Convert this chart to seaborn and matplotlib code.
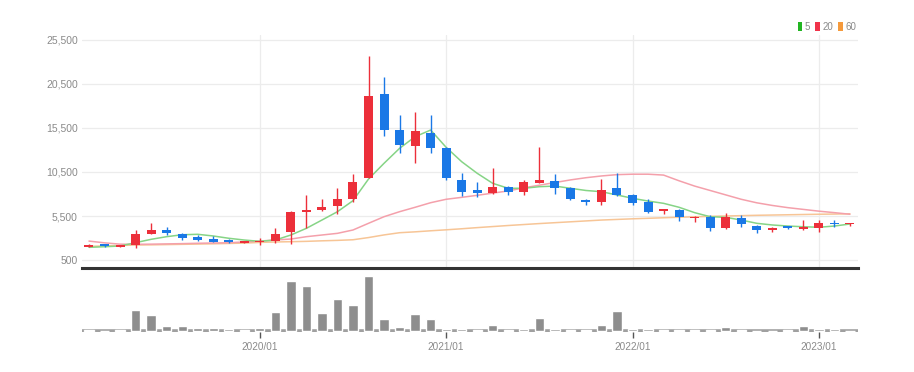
import matplotlib
matplotlib.use("Agg")
import matplotlib.pyplot as plt
from matplotlib.patches import Patch
import seaborn as sns
import pandas as pd
import numpy as np

# ---------------- data ----------------
months = ["2019/02", "2019/03", "2019/04", "2019/05", "2019/06", "2019/07", "2019/08", "2019/09",
          "2019/10", "2019/11", "2019/12", "2020/01", "2020/02", "2020/03", "2020/04", "2020/05",
          "2020/06", "2020/07", "2020/08", "2020/09", "2020/10", "2020/11", "2020/12", "2021/01",
          "2021/02", "2021/03", "2021/04", "2021/05", "2021/06", "2021/07", "2021/08", "2021/09",
          "2021/10", "2021/11", "2021/12", "2022/01", "2022/02", "2022/03", "2022/04", "2022/05",
          "2022/06", "2022/07", "2022/08", "2022/09", "2022/10", "2022/11", "2022/12", "2023/01",
          "2023/02", "2023/03"]
opens = [2000, 2300, 2000, 2200, 3450, 3950, 3400, 3100, 2900, 2750, 2450, 2500, 2700, 3650,
         5950, 6150, 6650, 7400, 9800, 19400, 15300, 13500, 14900, 13200, 9550, 8500, 8100,
         8800, 8200, 9300, 9500, 8700, 7300, 7050, 8700, 7900, 7100, 6050, 6150, 5250, 5350,
         4100, 5300, 4400, 3950, 4350, 4050, 4100, 4670, 4560]
highs = [2300, 2350, 2250, 3900, 4700, 4200, 3600, 3300, 3250, 2850, 2600, 2960, 4100, 6100,
         7880, 7400, 8640, 10270, 23680, 21250, 16970, 17350, 16970, 13300, 10350, 9400, 10910,
         8900, 9600, 13300, 10270, 8800, 7400, 9670, 10430, 8000, 7430, 6330, 6250, 5500, 5600,
         5800, 5600, 4500, 4200, 4400, 5050, 5050, 5050, 4750]
lows = [1950, 2000, 1950, 1900, 3400, 3300, 2800, 2700, 2500, 2450, 2400, 2200, 2400, 2280,
        4140, 6100, 5730, 7100, 9780, 14590, 12620, 11510, 12620, 9600, 7770, 7700, 8000,
        7900, 7900, 9200, 8000, 7300, 6700, 6800, 7800, 6760, 5830, 5730, 4970, 4850, 3850,
        4000, 4300, 3610, 3650, 4000, 3900, 3720, 4300, 4400]
closes = [2200, 2050, 2200, 3450, 3900, 3600, 3050, 2800, 2600, 2500, 2550, 2700, 3500, 5900,
          6150, 6550, 7400, 9400, 19100, 15300, 13600, 15200, 13200, 9800, 8250, 8100, 8800,
          8200, 9350, 9600, 8650, 7400, 7050, 8450, 7900, 6950, 6000, 6280, 5350, 5400, 4100,
          5400, 4600, 3900, 4100, 4100, 4200, 4650, 4560, 4680]
volumes = [1.3, 0, 1.3, 21.3, 16.3, 5.3, 5.3, 2.7, 2.7, 2.0, 1.0, 2.7, 19.0, 50.0, 45.0, 18.0,
           32.3, 25.7, 55.0, 12.0, 3.7, 17.3, 12.0, 2.3, 2.0, 1.3, 6.3, 1.3, 2.3, 13.0, 2.3,
           1.0, 1.0, 6.3, 19.7, 2.3, 2.3, 1.0, 1.0, 1.0, 1.0, 4.0, 1.0, 0, 0, 1.0, 4.7, 2.3,
           2.0, 0.5]
ma5 = [1940, 2010, 2090, 2470, 2850, 3150, 3370, 3420, 3230, 2970, 2770, 2620, 2770, 3340,
       4100, 5040, 5990, 7240, 9700, 11490, 13190, 14510, 15270, 13300, 11670, 10350, 9210,
       8650, 8650, 8830, 8900, 8650, 8400, 8260, 7890, 7510, 7200, 6940, 6490, 5880, 5420,
       5350, 5040, 4670, 4480, 4360, 4280, 4220, 4360, 4590]
ma20 = [2650, 2450, 2300, 2280, 2300, 2330, 2360, 2400, 2430, 2460, 2550, 2650, 2780, 2880,
        3150, 3340, 3530, 3910, 4670, 5420, 5990, 6490, 7010, 7400, 7620, 7850, 8100, 8350,
        8700, 9000, 9300, 9600, 9850, 10050, 10200, 10250, 10250, 10150, 9500, 8900, 8400,
        7900, 7400, 7000, 6700, 6450, 6250, 6050, 5880, 5700]
ma60 = [2050, 2100, 2150, 2200, 2220, 2250, 2280, 2310, 2340, 2380, 2420, 2500, 2550, 2580,
        2620, 2680, 2730, 2800, 3050, 3350, 3600, 3700, 3820, 3930, 4050, 4180, 4300, 4420,
        4530, 4640, 4740, 4840, 4940, 5040, 5110, 5180, 5240, 5300, 5360, 5410, 5460, 5500,
        5540, 5580, 5610, 5640, 5670, 5700, 5720, 5750]
y_ticks = [500, 5500, 10500, 15500, 20500, 25500]
x_tick_labels = ["2020/01", "2021/01", "2022/01", "2023/01"]
ma_labels = ["5", "20", "60"]

# ---------------- style ----------------
sns.set_style("white")
plt.rcParams["font.family"] = ["Liberation Sans Narrow", "Liberation Sans", "DejaVu Sans"]

UP = "#ec2f3a"
DOWN = "#1a78e6"
MA_COLORS = ["#86d486", "#f4a0ab", "#f7c596"]
LEG_COLORS = ["#22b522", "#f0334a", "#f59a3c"]
GRID = "#ececec"
TXT = "#8a8a8a"

W, H = 914, 372
fig = plt.figure(figsize=(W / 100, H / 100), dpi=100)

x0, x1 = 82, 858
ax = fig.add_axes([x0 / W, 1 - 268 / H, (x1 - x0) / W, (268 - 35) / H])
ax2 = fig.add_axes([x0 / W, 1 - 332 / H, (x1 - x0) / W, 60 / H])

n = len(months)
idx = np.arange(n)
df = pd.DataFrame({"i": idx, "month": months, "open": opens, "high": highs, "low": lows,
                   "close": closes, "volume": volumes, "ma5": ma5, "ma20": ma20, "ma60": ma60})

# grid
for yt in y_ticks:
    ax.axhline(yt, color=GRID, lw=0.9, zorder=0)
tick_idx = [months.index(m) for m in x_tick_labels]
for t in tick_idx:
    ax.axvline(t, color=GRID, lw=0.9, zorder=0)

# moving averages
for col, c in zip(["ma60", "ma20", "ma5"], [MA_COLORS[2], MA_COLORS[1], MA_COLORS[0]]):
    sns.lineplot(data=df, x="i", y=col, ax=ax, color=c, lw=1.1, zorder=2, legend=False)

# candles
bw = 0.58
for _, r in df.iterrows():
    up = r["close"] >= r["open"]
    c = UP if up else DOWN
    ax.vlines(r["i"], r["low"], r["high"], color=c, lw=1.0, zorder=3)
    lo = min(r["open"], r["close"])
    h = max(abs(r["close"] - r["open"]), 180)
    ax.bar(r["i"], h, bottom=lo, width=bw, color=c, zorder=4, linewidth=0)

ax.set_xlim(-0.45, n - 0.48)
ax.set_ylim(-409, 26068)
ax.set_yticks(y_ticks)
ax.set_yticklabels([f"{v:,}" for v in y_ticks], fontsize=7.5, color=TXT)
ax.tick_params(axis="y", length=0, pad=3)
ax.set_xticks([])
ax.set_xlabel("")
ax.set_ylabel("")
for s in ["top", "left", "right"]:
    ax.spines[s].set_visible(False)
ax.spines["bottom"].set_color("#333333")
ax.spines["bottom"].set_linewidth(2.2)

# volume
ax2.axhline(0, color="#a0a0a0", lw=2.6, zorder=1)
sns.barplot(data=df, x="i", y="volume", ax=ax2, color="#8e8e8e", width=0.6,
            saturation=1, zorder=2, errorbar=None)
ax2.set_xlim(-0.45, n - 0.48)
ax2.set_ylim(-1, 59)
ax2.set_yticks([])
ax2.set_xticks(tick_idx)
ax2.set_xticklabels(x_tick_labels, fontsize=7.2, color=TXT)
ax2.tick_params(axis="x", bottom=True, length=4, width=1, color="#555555", pad=3,
                direction="out")
ax2.set_xlabel("")
ax2.set_ylabel("")
for s in ["top", "left", "right", "bottom"]:
    ax2.spines[s].set_visible(False)

# legend
handles = [Patch(facecolor=c, edgecolor="none") for c in LEG_COLORS]
fig.legend(handles, ma_labels, loc="upper right", bbox_to_anchor=(860 / W, 1 - 18 / H),
           ncol=3, frameon=False, fontsize=7, handlelength=0.5, handleheight=0.9,
           handletextpad=0.25, columnspacing=0.5, labelcolor=TXT, borderaxespad=0)

fig.savefig("out.png", dpi=100, facecolor="white")
